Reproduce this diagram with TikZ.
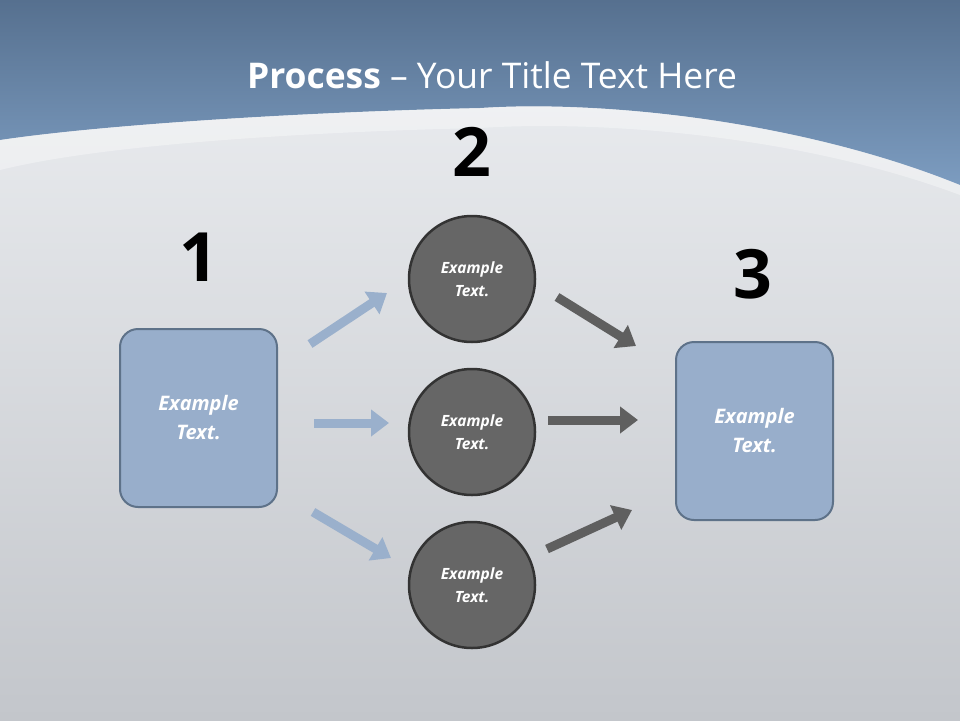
\documentclass[tikz,border=0pt]{standalone}
\usepackage{fontspec}
\setmainfont{Open Sans}
\usetikzlibrary{arrows.meta}
\definecolor{bandtop}{HTML}{56708F}
\definecolor{bandbot}{HTML}{7C9CC0}
\definecolor{bgtop}{HTML}{EEF0F3}
\definecolor{bgbot}{HTML}{C3C6CB}
\definecolor{boxfill}{HTML}{98AECB}
\definecolor{boxline}{HTML}{5E7289}
\definecolor{circfill}{HTML}{666666}
\definecolor{circline}{HTML}{333333}
\definecolor{bluearr}{HTML}{9AB0CC}
\definecolor{grayarr}{HTML}{5F5F5F}
\tikzset{
 x=1pt,y=-1pt,
 sbox/.style={draw=boxline,line width=2pt,fill=boxfill,rounded corners=18pt,minimum width=157pt,minimum height=178pt,text=white,font=\fontsize{20}{29}\selectfont\bfseries\itshape,align=center},
 circ/.style={circle,draw=circline,line width=2.5pt,fill=circfill,minimum size=126pt,text=white,font=\fontsize{15.5}{23}\selectfont\bfseries\itshape,align=center},
 num/.style={font=\fontsize{68}{70}\selectfont\bfseries,text=black},
 barr/.style={draw=bluearr,line width=9pt,-{Triangle[length=18pt,width=26pt]}},
 garr/.style={draw=grayarr,line width=9pt,-{Triangle[length=18pt,width=26pt]}},
}
\begin{document}
\begin{tikzpicture}
\useasboundingbox (0,0) rectangle (960,720);
\shade[top color=bgtop,bottom color=bgbot] (0,0) rectangle (960,720);
\shade[top color=bandtop,bottom color=bandbot] (0,0) -- (960,0) -- (960,185) .. controls (800,120) and (600,100) .. (480,108) .. controls (300,112) and (100,125) .. (0,140) -- cycle;
\fill[white,opacity=0.35] (0,140) .. controls (100,125) and (300,112) .. (480,108) .. controls (600,100) and (800,120) .. (960,185) -- (960,195) .. controls (800,135) and (600,120) .. (480,128) .. controls (300,132) and (100,145) .. (0,170) -- cycle;
\node (title) at (492,75) {\fontsize{35.4}{40}\selectfont\color{white}\textbf{Process} – Your Title Text Here};
\node[sbox] (b1) at (198.5,418) {Example\\Text.};
\node[sbox] (b3) at (754.5,431) {Example\\Text.};
\node[circ] (c1) at (472,279) {Example\\Text.};
\node[circ] (c2) at (472,432) {Example\\Text.};
\node[circ] (c3) at (472,585) {Example\\Text.};
\node[num] (n1) at (199,257) {1};
\node[num] (n2) at (472,152) {2};
\node[num] (n3) at (753,274) {3};
\coordinate (a1s) at (310,344); \coordinate (a1e) at (387,293);
\coordinate (a2s) at (314,423); \coordinate (a2e) at (389,423);
\coordinate (a3s) at (313,512); \coordinate (a3e) at (391,558);
\coordinate (g1s) at (557,297); \coordinate (g1e) at (636,346);
\coordinate (g2s) at (548,420); \coordinate (g2e) at (638,420);
\coordinate (g3s) at (547,549); \coordinate (g3e) at (632,510);
\draw[barr] (a1s) -- (a1e);
\draw[barr] (a2s) -- (a2e);
\draw[barr] (a3s) -- (a3e);
\draw[garr] (g1s) -- (g1e);
\draw[garr] (g2s) -- (g2e);
\draw[garr] (g3s) -- (g3e);
\end{tikzpicture}
\end{document}
